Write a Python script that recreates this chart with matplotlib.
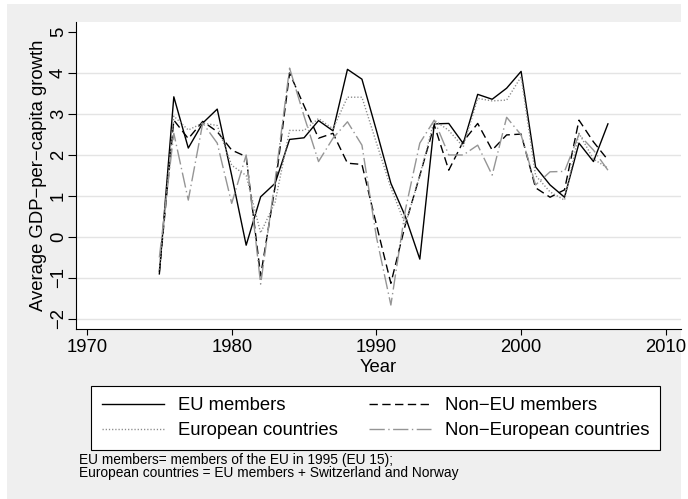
import numpy as np
import matplotlib
matplotlib.use("Agg")
import matplotlib.pyplot as plt
from matplotlib.patches import Rectangle

plt.rcParams['font.family'] = ['Liberation Sans', 'DejaVu Sans']
plt.rcParams['lines.scale_dashes'] = False

# average GDP-per-capita growth, 1975-2006
years = np.arange(1975, 2007)

eu_members = [-0.9, 3.42, 2.17, 2.78, 3.12, 1.5, -0.2, 0.98, 1.31, 2.38,
              2.42, 2.84, 2.59, 4.09, 3.85, 2.6, 1.31, 0.5, -0.54, 2.76,
              2.77, 2.28, 3.48, 3.36, 3.63, 4.04, 1.71, 1.27, 0.97, 2.29,
              1.84, 2.76]

non_eu_members = [-0.85, 2.85, 2.4, 2.82, 2.57, 2.12, 1.96, -0.95, 1.23, 4.0,
                  3.2, 2.41, 2.53, 1.8, 1.77, 0.3, -1.13, 0.3, 1.5, 2.73,
                  1.63, 2.33, 2.77, 2.12, 2.49, 2.51, 1.2, 0.97, 1.15, 2.85,
                  2.32, 1.88]

european = [-0.8, 2.95, 2.61, 2.78, 2.72, 1.75, 1.5, 0.1, 0.85, 2.6,
            2.6, 2.89, 2.64, 3.41, 3.41, 2.3, 1.2, 0.3, 1.5, 2.85,
            2.6, 2.2, 3.38, 3.32, 3.34, 3.91, 1.5, 1.1, 0.9, 2.53,
            1.9, 1.68]

non_european = [-0.5, 2.53, 0.9, 2.78, 2.29, 0.82, 2.0, -1.15, 1.39, 4.12,
                2.95, 1.84, 2.41, 2.81, 2.24, 0.0, -1.66, 0.66, 2.29, 2.85,
                2.0, 2.0, 2.24, 1.51, 2.92, 2.49, 1.27, 1.59, 1.6, 2.5,
                2.12, 1.63]

xticks = [1970, 1980, 1990, 2000, 2010]
yticks = [-2, -1, 0, 1, 2, 3, 4, 5]

bg = '#efefef'
fs = 13.3
fig = plt.figure(figsize=(6.88, 4.99), dpi=100, facecolor='white')
# grey graph region with a thin white margin round it
fig.patches.append(Rectangle((7/688, 0), (681 - 7)/688, 1 - 4/499,
                             transform=fig.transFigure, facecolor=bg,
                             edgecolor='none', zorder=-10))

ax = fig.add_axes([76/688, 1 - 329/499, (681 - 76)/688, (329 - 22)/499])
ax.set_facecolor('white')

l1, = ax.plot(years, eu_members, color='black', lw=1.0, label='EU members')
l2, = ax.plot(years, non_eu_members, color='black', lw=1.0,
              dashes=(6, 3.2), label='Non\u2212EU members')
l3, = ax.plot(years, european, color='#8a8a8a', lw=1.0,
              dashes=(0.9, 1.4), label='European countries')
l4, = ax.plot(years, non_european, color='#959595', lw=1.0,
              dashes=(11, 2.5, 1, 2.5), label='Non\u2212European countries')

ax.set_xlim(1969.24, 2011.05)
ax.set_ylim(-2.245, 5.245)
ax.set_xticks(xticks)
ax.set_yticks(yticks)
ax.set_yticklabels([str(v).replace('-', '\u2212') for v in yticks],
                   rotation=90, va='center')

ax.yaxis.grid(True, color='#e4e4e4', lw=1.0)
ax.set_axisbelow(True)
ax.get_ygridlines()[-1].set_visible(False)

for s in ['top', 'right']:
    ax.spines[s].set_visible(False)
for s in ['left', 'bottom']:
    ax.spines[s].set_linewidth(0.8)
ax.tick_params(axis='x', length=4.5, width=0.8, pad=2.5, labelsize=fs)
ax.tick_params(axis='y', length=5.5, width=0.8, pad=1.0, labelsize=fs)

ax.set_xlabel('Year', fontsize=fs, labelpad=2.5)
ax.set_ylabel('Average GDP\u2212per\u2212capita growth', fontsize=fs, labelpad=2)

leg = fig.legend([l1, l3, l2, l4],
                 ['EU members', 'European countries',
                  'Non\u2212EU members', 'Non\u2212European countries'],
                 ncol=2, loc='upper left',
                 bbox_to_anchor=(91/688, 1 - 386/499),
                 fontsize=fs, handlelength=3.35, handletextpad=0.75,
                 columnspacing=1.7, labelspacing=0.45, borderpad=0.6,
                 borderaxespad=0, fancybox=False, framealpha=1,
                 edgecolor='black', facecolor='white')
leg.get_frame().set_linewidth(0.8)

fig.text(79/688, 1 - 460/499, 'EU members= members of the EU in 1995 (EU 15);',
         fontsize=9.9, va='center')
fig.text(79/688, 1 - 473/499,
         'European countries = EU members + Switzerland and Norway',
         fontsize=9.9, va='center')

fig.savefig('out.png', dpi=100, facecolor='white')
